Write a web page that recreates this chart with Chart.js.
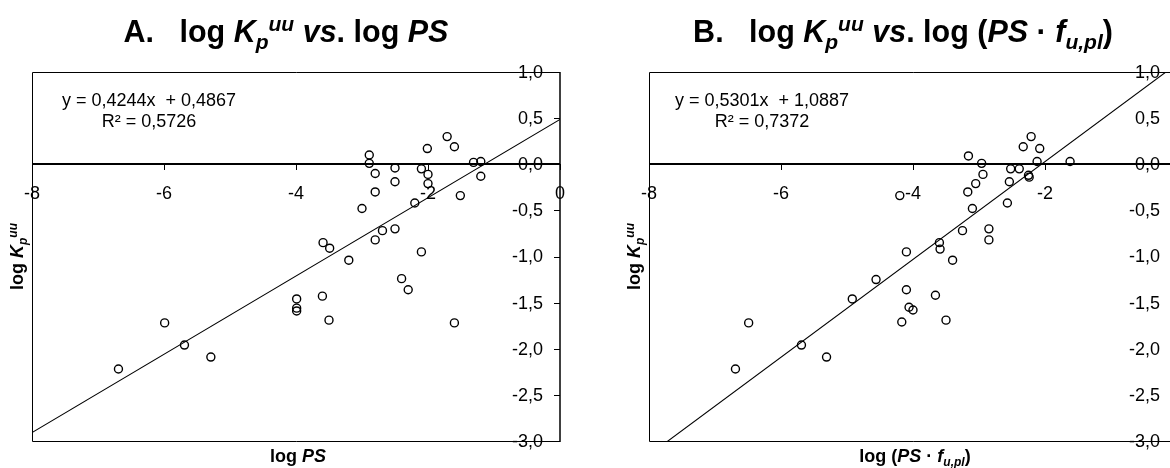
<!DOCTYPE html>
<html>
<head>
<meta charset="utf-8">
<script src="https://cdn.jsdelivr.net/npm/chart.js@4.4.1/dist/chart.umd.min.js"></script>
<style>
    html, body { margin: 0; padding: 0; background: #fff; overflow: hidden; width: 1170px; height: 468px; }
    .panel { position: absolute; top: 0; }
    #panelA { left: 0; }
    #panelB { left: 585px; }
</style>
</head>
<body>
<div class="panel" id="panelA"><canvas id="chartA" width="585" height="468"></canvas></div>
<div class="panel" id="panelB"><canvas id="chartB" width="620" height="468"></canvas></div>

<script>
// log PS vs log Kp,uu (panel A)
const logPS = [-2.89, -2.89, -2.80, -2.50, -2.50, -2.80, -3.00, -2.01, -2.10, -2.00, -2.00, -2.20, -1.71,
    -1.60, -1.31, -1.20, -1.20, -1.51, -3.49, -3.59, -3.20, -2.80, -2.69, -2.50, -2.10, -2.40, -2.30,
    -3.99, -3.99, -3.99, -3.60, -3.50, -5.99, -5.69, -5.29, -6.69, -1.60];
const logKpuuA = [0.10, 0.01, -0.10, -0.04, -0.19, -0.30, -0.48, 0.17, -0.05, -0.11, -0.21, -0.42, 0.30,
    0.19, 0.02, 0.03, -0.13, -0.34, -0.91, -0.85, -1.04, -0.82, -0.72, -0.70, -0.95, -1.24, -1.36,
    -1.46, -1.56, -1.59, -1.43, -1.69, -1.72, -1.96, -2.09, -2.22, -1.72];

// log (PS * fu,pl) vs log Kp,uu (panel B)
const logPSfu = [-4.20, -3.16, -2.96, -2.94, -3.05, -3.17, -3.10, -2.52, -2.39, -2.54, -2.25, -2.24, -2.57,
    -2.21, -2.33, -2.08, -2.12, -1.62, -3.25, -2.85, -2.85, -3.60, -3.59, -3.40, -4.10, -4.56, -4.10,
    -4.06, -4.00, -3.66, -4.17, -3.50, -4.92, -6.49, -5.69, -5.31, -6.69];
const logKpuuB = [-0.34, 0.09, 0.01, -0.11, -0.21, -0.30, -0.48, -0.05, -0.05, -0.19, -0.12, -0.14, -0.42,
    0.30, 0.19, 0.17, 0.03, 0.03, -0.72, -0.70, -0.82, -0.85, -0.92, -1.04, -0.95, -1.25, -1.36,
    -1.55, -1.58, -1.42, -1.71, -1.69, -1.46, -1.72, -1.96, -2.09, -2.22];

// linear fits
const fitA = [0.4244, 0.4867, 0.5726];   // slope, intercept, R²
const fitB = [0.5301, 1.0887, 0.7372];

const xTicks = [-8, -6, -4, -2, 0];
const xTickLabels = ['-8', '-6', '-4', '-2', '0'];
const yTicks = [1, 0.5, 0, -0.5, -1, -1.5, -2, -2.5, -3];
const yTickLabels = ['1,0', '0,5', '0,0', '-0,5', '-1,0', '-1,5', '-2,0', '-2,5', '-3,0'];

const FONT = '"Liberation Sans", Arial, sans-serif';

function comma(v) {
    return v.toFixed(4).replace('.', ',');
}

function runFont(r, size) {
    return (r.i ? 'italic ' : '') + (r.b ? 'bold ' : '') + size + 'px ' + FONT;
}

// draws a row of text pieces (sub/superscripts, italics) centred on cx
function drawRuns(ctx, runs, cx, baseline, size) {
    let total = 0;
    const parts = runs.map(r => {
        const s = (r.sub || r.sup) ? Math.round(size * 0.68) : size;
        ctx.font = runFont(r, s);
        const w = ctx.measureText(r.t).width;
        total += w;
        return { r, s, w };
    });
    let x = cx - total / 2;
    ctx.textAlign = 'left';
    ctx.textBaseline = 'alphabetic';
    for (const p of parts) {
        ctx.font = runFont(p.r, p.s);
        let dy = 0;
        if (p.r.sub) dy = size * 0.22;
        if (p.r.sup) dy = -size * 0.36;
        ctx.fillText(p.r.t, x, baseline + dy);
        x += p.w;
    }
}

const excelAxes = {
    id: 'excelAxes',
    beforeDatasetsDraw(chart, args, opts) {
        const { ctx, chartArea: a, scales: { x, y } } = chart;
        const x0 = Math.round(x.getPixelForValue(0));
        const y0 = Math.round(y.getPixelForValue(0));
        ctx.save();
        ctx.strokeStyle = '#000';

        // plot frame
        ctx.lineWidth = 1;
        ctx.beginPath();
        ctx.moveTo(x0, Math.round(a.top) + 0.5);
        ctx.lineTo(Math.round(a.left) + 0.5, Math.round(a.top) + 0.5);
        ctx.lineTo(Math.round(a.left) + 0.5, Math.round(a.bottom) + 0.5);
        ctx.lineTo(x0, Math.round(a.bottom) + 0.5);
        ctx.stroke();

        // y axis at x = 0 with inward ticks
        ctx.lineWidth = 1.5;
        ctx.beginPath();
        ctx.moveTo(x0, a.top);
        ctx.lineTo(x0, a.bottom + 1);
        ctx.stroke();
        ctx.lineWidth = 1;
        ctx.beginPath();
        yTicks.forEach(v => {
            const py = Math.round(y.getPixelForValue(v)) + 0.5;
            ctx.moveTo(x0 - 6, py);
            ctx.lineTo(x0, py);
        });
        ctx.stroke();

        // x axis at y = 0 with ticks below
        ctx.lineWidth = 2;
        ctx.beginPath();
        ctx.moveTo(a.left, y0);
        ctx.lineTo(x0, y0);
        ctx.stroke();
        ctx.lineWidth = 1;
        ctx.beginPath();
        xTicks.forEach(v => {
            const px = Math.round(x.getPixelForValue(v)) + 0.5;
            ctx.moveTo(px, y0);
            ctx.lineTo(px, y0 + 6);
        });
        ctx.stroke();
        ctx.restore();
    },
    afterDraw(chart, args, opts) {
        const { ctx, chartArea: a, scales: { x, y } } = chart;
        const x0 = x.getPixelForValue(0);
        const y0 = y.getPixelForValue(0);
        const mid = (a.left + a.right) / 2;
        ctx.save();
        ctx.fillStyle = '#000';

        // tick labels
        ctx.font = '18px ' + FONT;
        ctx.textAlign = 'center';
        ctx.textBaseline = 'middle';
        xTicks.forEach((v, i) => {
            ctx.fillText(xTickLabels[i], x.getPixelForValue(v), y0 + 30);
        });
        ctx.textAlign = 'right';
        yTicks.forEach((v, i) => {
            ctx.fillText(yTickLabels[i], x0 - 17, y.getPixelForValue(v) + 1);
        });

        // panel heading
        drawRuns(ctx, opts.title, mid - 10, 42, 30.5);

        // axis titles
        drawRuns(ctx, opts.xTitle, mid + 2, 462, 18);
        ctx.save();
        ctx.translate(a.left - 9, (a.top + a.bottom) / 2);
        ctx.rotate(-Math.PI / 2);
        drawRuns(ctx, opts.yTitle, 0, 0, 18);
        ctx.restore();

        // regression equation
        const fit = opts.fit;
        ctx.font = '18px ' + FONT;
        ctx.textAlign = 'center';
        ctx.textBaseline = 'alphabetic';
        ctx.fillText('y = ' + comma(fit[0]) + 'x  + ' + comma(fit[1]), a.left + opts.eqOffset, 106);
        ctx.fillText('R\u00b2 = ' + comma(fit[2]), a.left + opts.eqOffset, 127);
        ctx.restore();
    }
};

const kpuuTitle = [
    { t: 'log ', b: true },
    { t: 'K', b: true, i: true },
    { t: 'p', b: true, i: true, sub: true },
    { t: 'uu', b: true, i: true, sup: true }
];

function buildChart(canvasId, xs, ys, fit, padding, title, xTitle, eqOffset) {
    const points = xs.map((v, i) => ({ x: v, y: ys[i] }));
    const trend = [
        { x: xTicks[0], y: fit[0] * xTicks[0] + fit[1] },
        { x: 0, y: fit[1] }
    ];
    return new Chart(document.getElementById(canvasId), {
        type: 'scatter',
        data: {
            datasets: [
                {
                    data: points,
                    pointRadius: 4,
                    pointBorderWidth: 1.4,
                    pointBorderColor: '#000',
                    pointBackgroundColor: 'rgba(0,0,0,0)',
                    showLine: false
                },
                {
                    data: trend,
                    showLine: true,
                    borderColor: '#000',
                    borderWidth: 1.1,
                    pointRadius: 0
                }
            ]
        },
        options: {
            responsive: false,
            animation: false,
            devicePixelRatio: 1,
            events: [],
            layout: { padding: padding },
            scales: {
                x: { type: 'linear', min: -8, max: 0, display: false },
                y: { type: 'linear', min: -3, max: 1, display: false }
            },
            plugins: {
                legend: { display: false },
                tooltip: { enabled: false },
                excelAxes: {
                    title: title,
                    xTitle: xTitle,
                    yTitle: kpuuTitle,
                    fit: fit,
                    eqOffset: eqOffset
                }
            }
        },
        plugins: [excelAxes]
    });
}

buildChart('chartA', logPS, logKpuuA, fitA,
    { left: 32, right: 25, top: 72, bottom: 27 },
    [
        { t: 'A.   log ', b: true },
        { t: 'K', b: true, i: true },
        { t: 'p', b: true, i: true, sub: true },
        { t: 'uu', b: true, i: true, sup: true },
        { t: ' vs', b: true, i: true },
        { t: '. log ', b: true },
        { t: 'PS', b: true, i: true }
    ],
    [
        { t: 'log ', b: true },
        { t: 'PS', b: true, i: true }
    ],
    117);

buildChart('chartB', logPSfu, logKpuuB, fitB,
    { left: 64, right: 28, top: 72, bottom: 27 },
    [
        { t: 'B.   log ', b: true },
        { t: 'K', b: true, i: true },
        { t: 'p', b: true, i: true, sub: true },
        { t: 'uu', b: true, i: true, sup: true },
        { t: ' vs', b: true, i: true },
        { t: '. log (', b: true },
        { t: 'PS', b: true, i: true },
        { t: ' \u00b7 ', b: true },
        { t: 'f', b: true, i: true },
        { t: 'u,pl', b: true, i: true, sub: true },
        { t: ')', b: true }
    ],
    [
        { t: 'log (', b: true },
        { t: 'PS', b: true, i: true },
        { t: ' \u00b7 ', b: true },
        { t: 'f', b: true, i: true },
        { t: 'u,pl', b: true, i: true, sub: true },
        { t: ')', b: true }
    ],
    113);
</script>
</body>
</html>
